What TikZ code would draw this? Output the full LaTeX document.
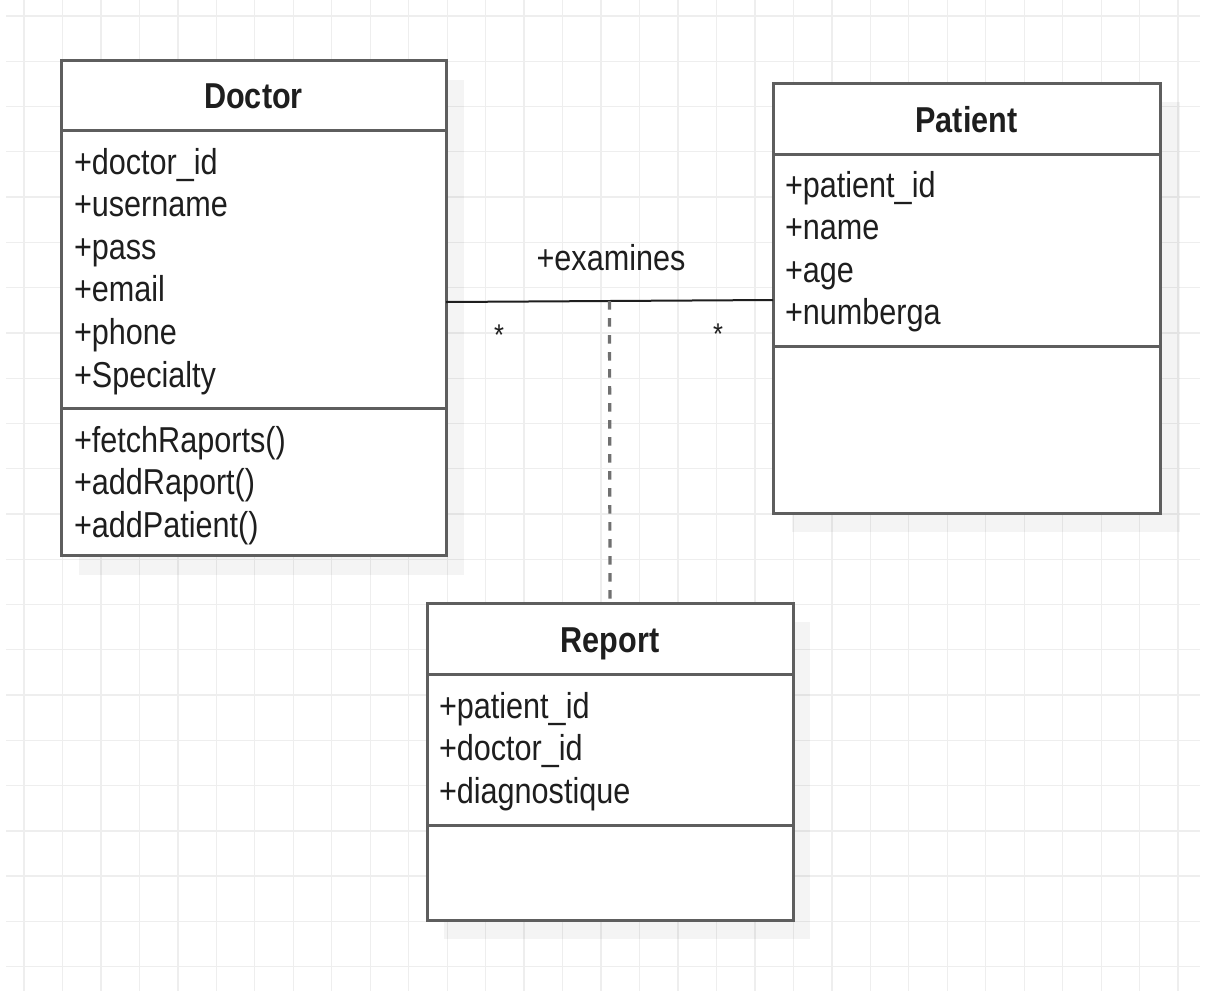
\documentclass[tikz,border=0pt]{standalone}
\usepackage{fontspec}
\setmainfont[FakeStretch=0.85]{Liberation Sans}
\usetikzlibrary{calc}
\definecolor{gridc}{HTML}{EEEEEE}
\definecolor{borderc}{HTML}{5E5E5E}
\definecolor{txt}{HTML}{1E1E1E}
\definecolor{dashc}{HTML}{707070}
\begin{document}
\begin{tikzpicture}[x=1pt,y=-1pt,
  every node/.style={inner sep=0pt, outer sep=0pt, text=txt, font=\fontsize{36}{43}\selectfont},
  classbox/.style={draw=borderc, line width=3pt, fill=white, anchor=north west, rectangle},
  sepline/.style={draw=borderc, line width=3pt},
  shadowbox/.style={fill=black, fill opacity=0.045},
  attr/.style={anchor=base west},
  title/.style={anchor=base, font=\fontsize{36}{43}\selectfont\bfseries},
  assoc/.style={draw=txt, line width=2pt},
  depline/.style={draw=dashc, line width=3.2pt, dash pattern=on 8.5pt off 8.5pt},
  gridline/.style={draw=gridc, line width=1.3pt},
  mult/.style={anchor=base, font=\fontsize{30}{36}\selectfont}
]
\useasboundingbox (0,0) rectangle (1208,991);
\fill[white] (0,0) rectangle (1208,991);
% grid
\foreach \k in {0,...,30} \draw[gridline] ({24+38.47*\k},0) -- ({24+38.47*\k},991);
\foreach \k in {0,...,21} \draw[gridline] (6,{16+45.27*\k}) -- (1200,{16+45.27*\k});
% shadows
\fill[shadowbox] (79,80) rectangle (464,575);
\fill[shadowbox] (792,102) rectangle (1180,532);
\fill[shadowbox] (444,622) rectangle (810,939);
% class boxes
\node[classbox, minimum width=385pt, minimum height=495pt] (doctor) at (61,60) {};
\node[classbox, minimum width=387pt, minimum height=430pt] (patient) at (773,83) {};
\node[classbox, minimum width=366pt, minimum height=317pt] (report) at (427,603) {};
% compartments
\draw[sepline] ($(doctor.north west)+(0,70)$) -- ($(doctor.north east)+(0,70)$);
\draw[sepline] ($(doctor.north west)+(0,348)$) -- ($(doctor.north east)+(0,348)$);
\draw[sepline] ($(patient.north west)+(0,71)$) -- ($(patient.north east)+(0,71)$);
\draw[sepline] ($(patient.north west)+(0,263)$) -- ($(patient.north east)+(0,263)$);
\draw[sepline] ($(report.north west)+(0,71)$) -- ($(report.north east)+(0,71)$);
\draw[sepline] ($(report.north west)+(0,222)$) -- ($(report.north east)+(0,222)$);
% titles
\node[title] (doctorT) at (253.5,108) {Doctor};
\node[title] (patientT) at (966.5,132) {Patient};
\node[title] (reportT) at (610,652) {Report};
% attributes
\foreach \t [count=\i from 0] in {+doctor\_id,+username,+pass,+email,+phone,+Specialty}
  \node[attr] (da\i) at (74,{174+42.6*\i}) {\t};
\foreach \t [count=\i from 0] in {+fetchRaports(),+addRaport(),+addPatient()}
  \node[attr] (dm\i) at (74,{452+42.6*\i}) {\t};
\foreach \t [count=\i from 0] in {+patient\_id,+name,+age,+numberga}
  \node[attr] (pa\i) at (785,{197+42.6*\i}) {\t};
\foreach \t [count=\i from 0] in {+patient\_id,+doctor\_id,+diagnostique}
  \node[attr] (ra\i) at (439,{718+42.6*\i}) {\t};
% association
\draw[assoc] ([yshift=5.5pt]doctor.east) -- coordinate[pos=0.5] (mid) ([yshift=-2pt]patient.west);
\draw[depline] (mid) -- (report.north);
\node[anchor=base] (lbl) at (611,270) {+examines};
\node[mult] (m1) at (499,345) {*};
\node[mult] (m2) at (718,344) {*};
\end{tikzpicture}
\end{document}
